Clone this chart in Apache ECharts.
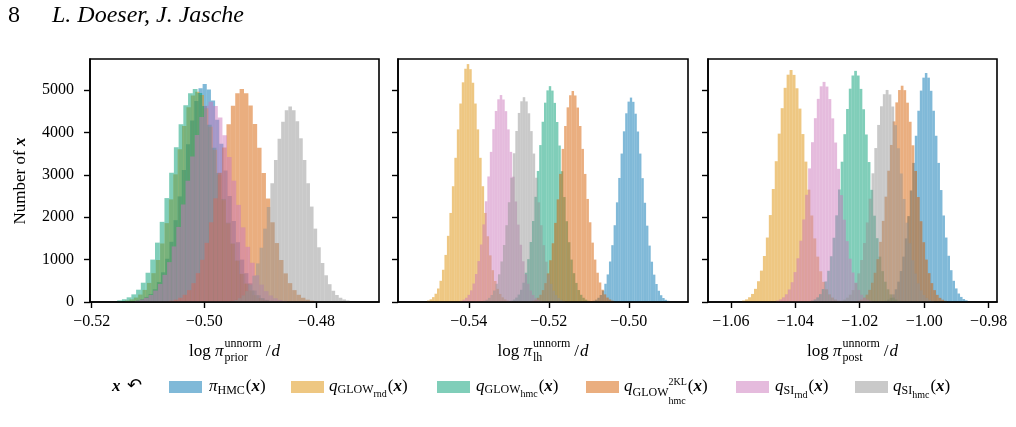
<!DOCTYPE html>
<html lang="en">
<head>
<meta charset="UTF-8">
<title>log pi unnorm histograms</title>
<script src="https://cdn.jsdelivr.net/npm/echarts@6/dist/echarts.min.js"></script>
<style>
  html, body { margin: 0; padding: 0; background: #fff; }
  #main { width: 1016px; height: 427px; }
</style>
</head>
<body>
<div id="main"></div>
<script>
// drawing order: HMC, GLOW_rnd, GLOW_hmc, GLOW_hmc^2KL, SI_rnd, SI_hmc
const seriesColors = ['#0173b2', '#de8f05', '#029e73', '#d55e00', '#cc78bc', '#949494'];

const panelXRange = [[-0.5203, -0.4689], [-0.5577, -0.4852], [-1.0671, -0.9774]];
const panelXTicks = [[-0.52, -0.50, -0.48], [-0.54, -0.52, -0.50], [-1.06, -1.04, -1.02, -1.00, -0.98]];
const yTicks = [0, 1000, 2000, 3000, 4000, 5000];
const yMax = 5730;

// first bin edge and bin width of each histogram, per panel
const priorStart = [-0.51211, -0.51407, -0.51546, -0.50617, -0.51233, -0.49526];
const priorWidth = [0.00074, 0.00078, 0.00084, 0.00078, 0.00082, 0.00064];
const lhStart = [-0.50902, -0.55043, -0.5296, -0.52423, -0.54218, -0.53643];
const lhWidth = [0.00058, 0.00062, 0.0006, 0.00062, 0.00062, 0.00062];
const postStart = [-1.01227, -1.0565, -1.03516, -1.02071, -1.04593, -1.02603];
const postWidth = [0.00078, 0.00092, 0.00084, 0.00084, 0.0009, 0.00088];

// counts per bin
const priorHMC = [40,70,120,190,300,470,700,1020,1420,1930,2490,3110,3720,4280,4740,5040,5140,5010,4750,4300,3730,3100,2500,1910,1410,1000,680,440,270,160,90,48,25];
const priorGlowRnd = [35,62,105,175,285,450,680,990,1380,1860,2420,3010,3600,4150,4590,4870,4960,4880,4570,4130,3590,3000,2400,1850,1370,970,660,430,270,160,90,50,28];
const priorGlowHmc = [38,65,110,180,290,455,690,1000,1400,1890,2450,3050,3650,4190,4640,4920,5020,4930,4620,4180,3640,3040,2430,1870,1380,980,665,435,270,160,90,50,28];
const priorGlow2KL = [30,55,100,170,280,445,680,995,1395,1880,2445,3045,3645,4190,4630,4920,5020,4925,4635,4195,3640,3040,2440,1880,1390,990,675,445,280,170,100,55,30];
const priorSIRnd = [32,58,100,165,270,425,640,940,1310,1770,2300,2860,3430,3940,4360,4630,4720,4620,4350,3930,3420,2860,2290,1760,1300,925,630,410,255,155,88,48,26];
const priorSIHmc = [26,48,90,155,255,405,620,910,1280,1730,2240,2800,3350,3850,4250,4520,4610,4520,4260,3860,3350,2800,2250,1730,1290,920,630,420,265,165,100,60,35];

const lhHMC = [30,55,100,165,270,430,650,955,1340,1810,2350,2925,3500,4025,4450,4725,4820,4720,4440,4020,3500,2920,2340,1800,1330,950,645,425,265,160,95,52,28];
const lhGlowRnd = [36,64,115,195,318,500,760,1110,1560,2100,2730,3400,4070,4680,5180,5500,5610,5490,5170,4680,4070,3400,2730,2100,1550,1100,750,495,310,190,110,62,33];
const lhGlowHmc = [32,58,105,175,288,455,690,1010,1415,1910,2480,3090,3700,4250,4700,4990,5090,4985,4695,4245,3690,3085,2475,1905,1410,1000,680,450,282,170,100,55,30];
const lhGlow2KL = [30,55,100,170,280,445,675,985,1385,1865,2420,3020,3610,4150,4590,4875,4975,4870,4585,4150,3610,3020,2430,1880,1400,1000,690,460,290,180,105,60,32];
const lhSIRnd = [30,55,100,168,275,435,660,965,1355,1830,2375,2960,3540,4075,4505,4780,4880,4775,4500,4070,3540,2955,2370,1825,1350,960,655,430,270,165,96,53,28];
const lhSIHmc = [29,53,97,165,270,430,652,956,1343,1811,2352,2932,3507,4033,4458,4733,4830,4730,4450,4030,3500,2930,2350,1810,1340,950,650,428,268,162,95,52,28];

const postHMC = [30,55,100,180,300,480,730,1070,1500,2025,2630,3280,3920,4510,4985,5290,5400,5290,4980,4510,3920,3280,2640,2040,1520,1090,750,500,320,200,120,70,40];
const postGlowRnd = [35,62,112,190,310,490,740,1085,1520,2050,2665,3320,3970,4570,5050,5360,5470,5355,5040,4560,3960,3310,2650,2040,1500,1070,725,475,300,180,105,58,30];
const postGlowHmc = [33,60,109,185,305,485,736,1079,1515,2044,2654,3308,3957,4551,5030,5341,5450,5340,5025,4545,3950,3300,2645,2035,1505,1070,728,478,300,180,105,58,30];
const postGlow2KL = [31,56,102,173,286,454,689,1010,1418,1913,2484,3096,3703,4259,4707,4998,5100,4995,4700,4250,3695,3090,2475,1905,1410,1000,680,445,280,168,98,54,28];
const postSIRnd = [34,62,110,182,296,466,705,1030,1445,1946,2528,3150,3768,4334,4790,5086,5190,5080,4785,4330,3760,3140,2520,1940,1435,1020,695,455,285,172,100,55,30];
const postSIHmc = [30,55,100,170,280,445,675,990,1390,1875,2435,3035,3630,4175,4615,4900,5000,4895,4610,4170,3625,3030,2430,1870,1385,985,670,440,275,165,96,54,28];

const panels = [
  { start: priorStart, width: priorWidth, counts: [priorHMC, priorGlowRnd, priorGlowHmc, priorGlow2KL, priorSIRnd, priorSIHmc], sub: 'prior' },
  { start: lhStart, width: lhWidth, counts: [lhHMC, lhGlowRnd, lhGlowHmc, lhGlow2KL, lhSIRnd, lhSIHmc], sub: 'lh' },
  { start: postStart, width: postWidth, counts: [postHMC, postGlowRnd, postGlowHmc, postGlow2KL, postSIRnd, postSIHmc], sub: 'post' }
];

const grids = [
  { left: 90, top: 59, width: 289, height: 243 },
  { left: 398, top: 59, width: 290, height: 243 },
  { left: 708, top: 59, width: 289, height: 243 }
];

const serif = '"Liberation Serif", "DejaVu Serif", serif';
const measureCtx = document.createElement('canvas').getContext('2d');
function fontOf(p) {
  return (p.it ? 'italic ' : '') + (p.b ? 'bold ' : '') + p.size + 'px ' + (p.family || serif);
}
function textWidth(p) {
  measureCtx.font = fontOf(p);
  return measureCtx.measureText(p.t).width;
}
function rowWidth(parts) {
  let w = 0;
  parts.forEach(p => {
    const g = Array.isArray(p) ? p : [p];
    w += Math.max(...g.map(q => textWidth(q) + (q.dx || 0)));
  });
  return w;
}
// lay text pieces left to right on a baseline, sub/superscripts via dy, stacked via arrays
function mathRow(x, baseline, parts) {
  const out = [];
  let cx = x;
  parts.forEach(p => {
    const g = Array.isArray(p) ? p : [p];
    let adv = 0;
    g.forEach(q => {
      out.push({
        type: 'text', x: cx + (q.dx || 0), y: baseline + (q.dy || 0) - 0.33 * q.size, silent: true,
        style: { text: q.t, font: fontOf(q), fill: '#000', align: 'left', verticalAlign: 'middle' }
      });
      adv = Math.max(adv, textWidth(q) + (q.dx || 0));
    });
    cx += adv;
  });
  return out;
}

const fmtTick = v => v.toFixed(2).replace('-', '\u2212');

const xAxes = [], yAxes = [], series = [];
panels.forEach((pn, i) => {
  xAxes.push({
    type: 'value', gridIndex: i, min: panelXRange[i][0], max: panelXRange[i][1], z: 5,
    axisLine: { show: true, onZero: false, lineStyle: { color: '#000', width: 1.6 } },
    axisTick: { show: true, length: 6, customValues: panelXTicks[i], lineStyle: { color: '#000', width: 1.4 } },
    axisLabel: { customValues: panelXTicks[i], formatter: fmtTick, margin: 12, color: '#000', fontFamily: serif, fontSize: 16 },
    splitLine: { show: false }
  });
  yAxes.push({
    type: 'value', gridIndex: i, min: 0, max: yMax, z: 5,
    axisLine: { show: true, onZero: false, lineStyle: { color: '#000', width: 1.6 } },
    axisTick: { show: true, length: 6, customValues: yTicks, lineStyle: { color: '#000', width: 1.4 } },
    axisLabel: { show: i === 0, customValues: yTicks, formatter: v => String(Math.round(v)), margin: 16, color: '#000', fontFamily: serif, fontSize: 16 },
    splitLine: { show: false }
  });
  pn.counts.forEach((counts, k) => {
    const data = counts.map((c, j) => [pn.start[k] + j * pn.width[k], pn.start[k] + (j + 1) * pn.width[k], c]);
    series.push({
      type: 'custom', xAxisIndex: i, yAxisIndex: i, z: 2 + k * 0.01,
      itemStyle: { color: seriesColors[k] },
      encode: { x: [0, 1], y: 2 },
      data: data,
      renderItem: function (params, api) {
        const p0 = api.coord([api.value(0), api.value(2)]);
        const p1 = api.coord([api.value(1), 0]);
        return {
          type: 'rect',
          shape: { x: p0[0], y: p0[1], width: p1[0] - p0[0], height: p1[1] - p0[1] },
          style: { fill: seriesColors[k], opacity: 0.5 }
        };
      }
    });
  });
});

// graphic texts: header, axis titles, legend
let graphics = [];
graphics.push({ type: 'text', x: 8, y: 16, style: { text: '8', font: '24px ' + serif, fill: '#000', verticalAlign: 'middle' } });
graphics.push({ type: 'text', x: 52, y: 16, style: { text: 'L. Doeser, J. Jasche', font: 'italic 24px ' + serif, fill: '#000', verticalAlign: 'middle' } });
graphics.push({
  type: 'text', x: 21, y: 181, rotation: Math.PI / 2,
  style: {
    text: '{a|Number of }{b|x}', align: 'center', verticalAlign: 'middle',
    rich: { a: { fontFamily: serif, fontSize: 17, fill: '#000' }, b: { fontFamily: serif, fontSize: 17, fontWeight: 'bold', fontStyle: 'italic', fill: '#000' } }
  }
});

panels.forEach((pn, i) => {
  const parts = [
    { t: 'log ', size: 17 }, { t: '\u03c0', size: 17, it: true },
    [{ t: 'unnorm', size: 12, dy: -9, dx: 1 }, { t: pn.sub, size: 12, dy: 5, dx: 1 }],
    { t: '/', size: 17, dx: 4 }, { t: 'd', size: 17, it: true, dx: 1 }
  ];
  const cx = grids[i].left + grids[i].width / 2;
  graphics = graphics.concat(mathRow(cx - rowWidth(parts) / 2, 357, parts));
});

const legendBase = 392;
const xPart = [{ t: '(', size: 17, dx: 1 }, { t: 'x', size: 17, it: true, b: true }, { t: ')', size: 17 }];
const legendItems = [
  { box: 169, text: 209, parts: [{ t: '\u03c0', size: 17, it: true }, { t: 'HMC', size: 12, dy: 3 }].concat(xPart) },
  { box: 291, text: 329, parts: [{ t: 'q', size: 17, it: true }, { t: 'GLOW', size: 12, dy: 2 }, { t: 'rnd', size: 10, dy: 6 }].concat(xPart) },
  { box: 437, text: 476, parts: [{ t: 'q', size: 17, it: true }, { t: 'GLOW', size: 12, dy: 2 }, { t: 'hmc', size: 10, dy: 6 }].concat(xPart) },
  { box: 586, text: 624, parts: [{ t: 'q', size: 17, it: true }, { t: 'GLOW', size: 12, dy: 5 }, [{ t: '2KL', size: 10, dy: -6 }, { t: 'hmc', size: 10, dy: 13 }]].concat(xPart) },
  { box: 736, text: 775, parts: [{ t: 'q', size: 17, it: true }, { t: 'SI', size: 12, dy: 3 }, { t: 'rnd', size: 10, dy: 7 }].concat(xPart) },
  { box: 855, text: 893, parts: [{ t: 'q', size: 17, it: true }, { t: 'SI', size: 12, dy: 3 }, { t: 'hmc', size: 10, dy: 7 }].concat(xPart) }
];
graphics = graphics.concat(mathRow(112, legendBase, [{ t: 'x', size: 17, it: true, b: true }]));
graphics.push({ type: 'text', x: 127, y: 386, style: { text: '\u21b6', font: '18px "DejaVu Sans", sans-serif', fill: '#000', verticalAlign: 'middle' } });
legendItems.forEach((it, k) => {
  graphics.push({ type: 'rect', shape: { x: it.box, y: 381, width: 33, height: 12 }, style: { fill: seriesColors[k], opacity: 0.5 } });
  graphics = graphics.concat(mathRow(it.text, legendBase, it.parts));
});

const chart = echarts.init(document.getElementById('main'), null, { renderer: 'canvas' });
chart.setOption({
  animation: false,
  backgroundColor: '#fff',
  grid: grids.map(g => Object.assign({ show: true, borderColor: '#000', borderWidth: 1.6 }, g)),
  xAxis: xAxes,
  yAxis: yAxes,
  series: series,
  graphic: graphics
});
</script>
</body>
</html>
